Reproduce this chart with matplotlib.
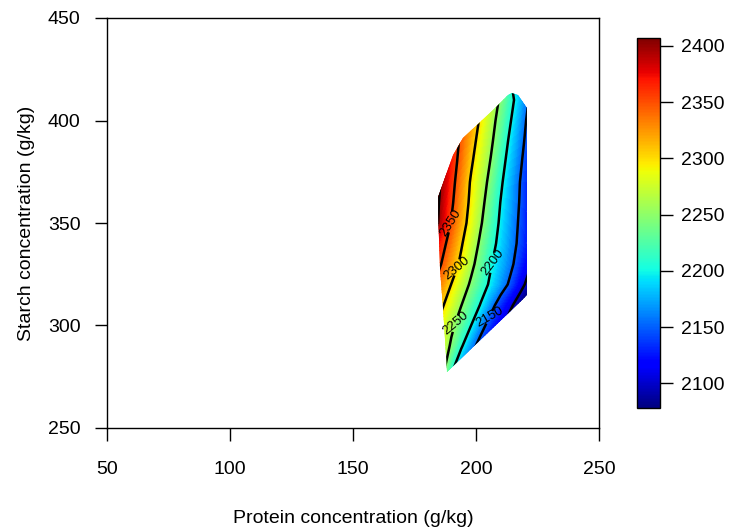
import numpy as np
import matplotlib
matplotlib.use("Agg")
import matplotlib.pyplot as plt
from matplotlib.patches import Polygon
from matplotlib.colors import Normalize
from matplotlib.cm import ScalarMappable

plt.rcParams['font.family'] = ['Liberation Sans', 'DejaVu Sans']

# grid of predicted values (rows = starch, cols = protein)
protein = [182, 186, 190, 194, 198, 202, 206, 210, 214, 218, 222]
starch = [270, 280, 290, 300, 310, 320, 330, 340, 350, 360, 370, 380, 390, 400, 410, 420]
response = [
    [2280, 2245, 2195, 2150, 2115, 2090, 2065, 2040, 2015, 1990, 1965],  # 270
    [2300, 2271, 2214, 2167, 2133, 2107, 2080, 2053, 2027, 2000, 1973],  # 280
    [2320, 2282, 2243, 2205, 2165, 2133, 2107, 2080, 2053, 2027, 2000],  # 290
    [2314, 2286, 2259, 2230, 2200, 2164, 2133, 2107, 2080, 2053, 2027],  # 300
    [2334, 2306, 2279, 2251, 2224, 2197, 2163, 2133, 2107, 2080, 2053],  # 310
    [2357, 2328, 2299, 2271, 2244, 2218, 2193, 2168, 2143, 2113, 2084],  # 320
    [2376, 2349, 2321, 2292, 2260, 2231, 2203, 2180, 2158, 2132, 2104],  # 330
    [2393, 2363, 2334, 2304, 2273, 2242, 2214, 2188, 2165, 2141, 2118],  # 340
    [2425, 2386, 2348, 2317, 2285, 2253, 2223, 2194, 2169, 2144, 2119],  # 350
    [2425, 2391, 2356, 2323, 2292, 2261, 2230, 2199, 2173, 2147, 2120],  # 360
    [2429, 2396, 2362, 2329, 2296, 2268, 2239, 2206, 2177, 2149, 2122],  # 370
    [2430, 2399, 2368, 2337, 2305, 2277, 2248, 2215, 2184, 2155, 2126],  # 380
    [2432, 2402, 2373, 2343, 2314, 2285, 2257, 2225, 2192, 2162, 2132],  # 390
    [2432, 2404, 2377, 2349, 2322, 2294, 2265, 2234, 2202, 2169, 2137],  # 400
    [2437, 2410, 2383, 2356, 2329, 2302, 2274, 2244, 2212, 2179, 2145],  # 410
    [2430, 2403, 2376, 2349, 2321, 2294, 2266, 2235, 2202, 2170, 2136],  # 420
]

# outline of the region where the surface is shown
hull_protein = [188.2, 218.7, 220.7, 220.7, 217.1, 214.6, 213.0, 206.9, 200.4,
                194.7, 190.7, 186.6, 184.6, 184.6, 185.4, 186.6, 188.2]
hull_starch = [277.3, 312.4, 314.9, 406.1, 412.4, 413.4, 412.4, 405.1, 397.8,
               391.5, 383.2, 369.5, 362.7, 354.9, 327.1, 308.5, 278.3]

contour_levels = [2100, 2150, 2200, 2250, 2300, 2350, 2400]
label_protein = [190.2, 192.3, 191.1, 206.5, 205.3]
label_starch = [349.0, 328.0, 303.7, 331.0, 304.6]

cbar_ticks = [2100, 2150, 2200, 2250, 2300, 2350, 2400]
zmin, zmax = 2078, 2407

X, Y = np.meshgrid(protein, starch)
Z = np.array(response, dtype=float)

fig = plt.figure(figsize=(7.32, 5.29), dpi=100)
ax = fig.add_axes([107 / 732, 101 / 529, 492 / 732, 410 / 529])

norm = Normalize(zmin, zmax)
clip = Polygon(np.column_stack([hull_protein, hull_starch]), closed=True,
               facecolor='none', edgecolor='none')
ax.add_patch(clip)

cf = ax.contourf(X, Y, Z, levels=np.linspace(zmin, zmax, 120), cmap='jet',
                 norm=norm, extend='both', antialiased=False)
cf.set_clip_path(clip)

cs = ax.contour(X, Y, Z, levels=contour_levels, colors='black', linewidths=1.8)
ax.clabel(cs, fmt='%d', fontsize=9.5, inline=True, inline_spacing=2,
          manual=list(zip(label_protein, label_starch)))
cs.set_clip_path(clip)

ax.set_xlim(50, 250)
ax.set_ylim(250, 450)
ax.set_xticks([50, 100, 150, 200, 250])
ax.set_yticks([250, 300, 350, 400, 450])
ax.tick_params(direction='out', length=9, width=1, labelsize=14)
ax.tick_params(axis='x', pad=15)
ax.tick_params(axis='y', pad=10)
for s in ax.spines.values():
    s.set_linewidth(1)
ax.set_xlabel('Protein concentration (g/kg)', fontsize=14, labelpad=23)
ax.set_ylabel('Starch concentration (g/kg)', fontsize=14, labelpad=9)

cax = fig.add_axes([637 / 732, (529 - 408) / 529, 23 / 732, 370 / 529])
cb = fig.colorbar(ScalarMappable(norm=norm, cmap='jet'), cax=cax, ticks=cbar_ticks)
cb.outline.set_linewidth(1)
cax.tick_params(direction='out', length=9, width=1, labelsize=14, pad=6)

fig.savefig('out.png', dpi=100)
